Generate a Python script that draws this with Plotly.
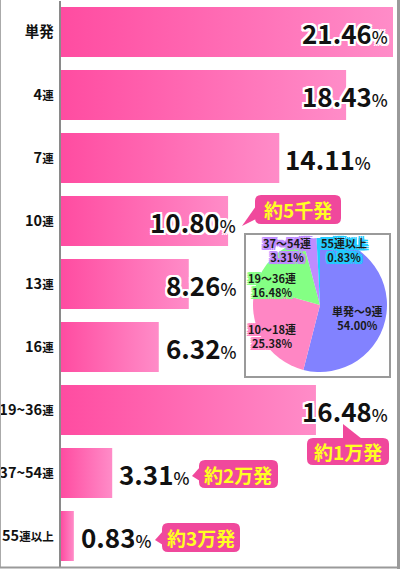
import re
import plotly.graph_objects as go

# ---------------- data ----------------
categories = ["単発", "4連", "7連", "10連", "13連", "16連", "19~36連", "37~54連", "55連以上"]
values = [21.46, 18.43, 14.11, 10.80, 8.26, 6.32, 16.48, 3.31, 0.83]

callout_texts = ["約5千発", "約1万発", "約2万発", "約3万発"]

pie_labels = ["単発〜9連", "10〜18連", "19〜36連", "37〜54連", "55連以上"]
pie_values = [54.00, 25.38, 16.48, 3.31, 0.83]

# ---------------- style ----------------
W, H = 400, 569
FONT = "Noto Sans CJK JP"
BAR_C0, BAR_C1 = "#ff4ca1", "#ff8cc8"
CALLOUT_C = "#f0489c"
pie_colors = ["#8282ff", "#ff86c4", "#84ff84", "#c08cff", "#22ccff"]
pie_label_bg = ["#8282ff", "#ff86c4", "#84ff84", "#c08cff", "#22ccff"]

PX_PER_UNIT = 15.47
X0_PX, X1_PX = 61, 397
PLOT_TOP, PLOT_BOT = 0.5, 567.5


def px(x):
    return x / W


def py(y):
    return 1 - y / H


# value label placement (style): anchor side and pixel position (or None -> after bar end)
label_place = [("right", 390), ("right", 390), ("right", 373), ("right", 238),
               ("right", 238), ("right", 238), ("right", 390), ("left", None), ("left", None)]

# callout geometry in pixels: box (x0,y0,x1,y1), pointer triangle
callout_geom = [
    dict(box=(255, 195, 341, 224), tri=[(256, 206), (256, 219), (242, 226)]),
    dict(box=(307, 438, 389, 465), tri=[(343, 439), (343, 424), (362, 439)]),
    dict(box=(199, 460, 278, 488), tri=[(200, 467), (200, 481), (192, 476)]),
    dict(box=(162, 523, 240, 552), tri=[(163, 531), (163, 545), (155, 540)]),
]

# pie label positions (pixels)
pie_label_pos = [(357, 318), (272, 336), (272, 285), (287, 250), (344, 250)]

fig = go.Figure()

# bars as gradient-filled polygons through the axes
half = 0.397
for i, v in enumerate(values):
    fig.add_trace(go.Scatter(
        x=[0, v, v, 0, 0],
        y=[i - half, i - half, i + half, i + half, i - half],
        mode="lines", fill="toself", line=dict(width=0),
        fillgradient=dict(type="horizontal", colorscale=[[0, BAR_C0], [1, BAR_C1]]),
        hoverinfo="skip", showlegend=False,
    ))


def tick_html(label):
    m = re.match(r"^([0-9~]+)(.*)$", label)
    if m:
        return (f"<span style='font-size:14.5px'>{m.group(1)}</span>"
                f"<span style='font-size:11.5px'>{m.group(2)}</span>")
    return f"<span style='font-size:14.5px'>{label}</span>"


ticktext = [tick_html(c) for c in categories]

annotations = []


def outline(c, w=1):
    parts = []
    for dx in (-w, 0, w):
        for dy in (-w, 0, w):
            if dx or dy:
                parts.append(f"{dx}px {dy}px 0 {c}")
    return ", ".join(parts)


for i, v in enumerate(values):
    side, pos = label_place[i]
    txt = f"{v:.2f}<span style='font-size:17px;font-weight:500'>%</span>"
    a = dict(text=txt, yref="y", y=i, yanchor="middle", showarrow=False,
             font=dict(family=FONT, size=26, color="#111", weight="bold",
                       shadow=outline("#ffffff", 2)))
    if pos is None:
        a.update(xref="x", x=v, xanchor="left", xshift=5)
    else:
        a.update(xref="paper", x=px(pos), xanchor="right")
    annotations.append(a)

shapes = []


def rrect(x0, y0, x1, y1, r):
    return (f"M {px(x0 + r)} {py(y0)} L {px(x1 - r)} {py(y0)} "
            f"Q {px(x1)} {py(y0)} {px(x1)} {py(y0 + r)} "
            f"L {px(x1)} {py(y1 - r)} Q {px(x1)} {py(y1)} {px(x1 - r)} {py(y1)} "
            f"L {px(x0 + r)} {py(y1)} Q {px(x0)} {py(y1)} {px(x0)} {py(y1 - r)} "
            f"L {px(x0)} {py(y0 + r)} Q {px(x0)} {py(y0)} {px(x0 + r)} {py(y0)} Z")


for g, t in zip(callout_geom, callout_texts):
    x0, y0, x1, y1 = g["box"]
    shapes.append(dict(type="path", xref="paper", yref="paper", path=rrect(x0, y0, x1, y1, 6),
                       fillcolor=CALLOUT_C, line=dict(width=0), layer="above"))
    tri = g["tri"]
    p = "M " + " L ".join(f"{px(a)} {py(b)}" for a, b in tri) + " Z"
    shapes.append(dict(type="path", xref="paper", yref="paper", path=p,
                       fillcolor=CALLOUT_C, line=dict(width=0), layer="above"))
    annotations.append(dict(text=t, xref="paper", yref="paper", x=px((x0 + x1) / 2),
                            y=py((y0 + y1) / 2), xanchor="center", yanchor="middle",
                            showarrow=False,
                            font=dict(family=FONT, size=19, color="#ffff22", weight="bold")))

# pie inset box
shapes.append(dict(type="rect", xref="paper", yref="paper", x0=px(245), x1=px(390),
                   y0=py(377), y1=py(234), fillcolor="#ffffff",
                   line=dict(color="#9a9a9a", width=2), layer="below"))

# outer frame (left, bottom, right)
shapes.append(dict(type="line", xref="paper", yref="paper", x0=px(0.5), x1=px(0.5),
                   y0=py(0), y1=py(568), line=dict(color="#aaaaaa", width=1)))
shapes.append(dict(type="line", xref="paper", yref="paper", x0=px(0), x1=px(400),
                   y0=py(567.5), y1=py(567.5), line=dict(color="#9a9a9a", width=2)))
shapes.append(dict(type="line", xref="paper", yref="paper", x0=px(398.5), x1=px(398.5),
                   y0=py(0), y1=py(569), line=dict(color="#9a9a9a", width=3)))

fig.add_trace(go.Pie(
    labels=pie_labels, values=pie_values, sort=False, direction="clockwise", rotation=0,
    marker=dict(colors=pie_colors, line=dict(width=0)), textinfo="none",
    hoverinfo="label+percent", showlegend=False,
    domain=dict(x=[px(253), px(387)], y=[py(372), py(238)]),
))

for (lx, ly), lab, v, c in zip(pie_label_pos, pie_labels, pie_values, pie_label_bg):
    annotations.append(dict(text=f"{lab}<br>{v:.2f}%", xref="paper", yref="paper",
                            x=px(lx), y=py(ly), xanchor="center", yanchor="middle",
                            showarrow=False,
                            font=dict(family=FONT, size=11, color="#1a1a1a", weight="bold",
                                      shadow=outline(c, 2))))

fig.update_layout(
    width=W, height=H, margin=dict(l=0, r=0, t=0, b=0, autoexpand=False),
    paper_bgcolor="#ffffff", plot_bgcolor="#ffffff",
    xaxis=dict(domain=[px(X0_PX), px(X1_PX)],
               range=[0, (X1_PX - X0_PX) / PX_PER_UNIT],
               visible=False, fixedrange=True, automargin=False),
    yaxis=dict(domain=[1 - PLOT_BOT / H, 1 - PLOT_TOP / H],
               range=[len(categories) - 0.5, -0.5], automargin=False,
               tickmode="array", tickvals=list(range(len(categories))), ticktext=ticktext,
               showgrid=False, zeroline=False, showline=True, linecolor="#8a8a8a", linewidth=1.5,
               ticks="", ticklabelstandoff=3,
               tickfont=dict(family=FONT, size=13, color="#111", weight="bold"),
               fixedrange=True),
    shapes=shapes, annotations=annotations,
)

fig.write_html("out.html", config={"displayModeBar": False},
               post_script="document.body.style.margin='0px';")
